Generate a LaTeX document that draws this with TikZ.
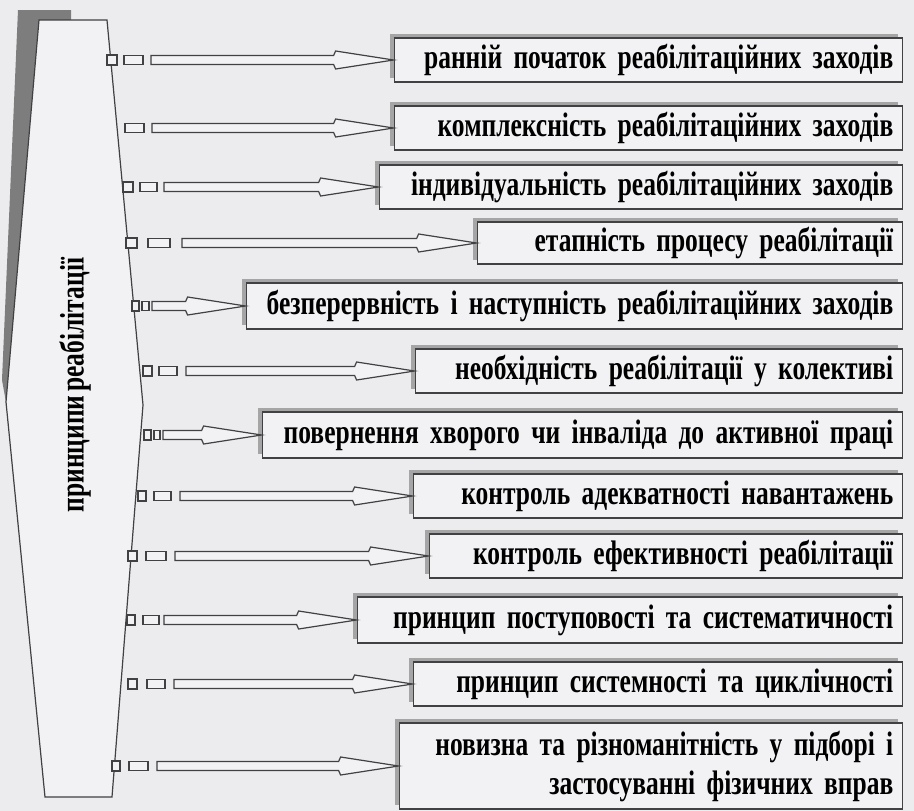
\documentclass[tikz,border=0pt]{standalone}
\usepackage{fontspec}
\newfontfamily\condfont{Liberation Serif}[FakeStretch=0.75,WordSpace=0.6]
\newcommand\labelfont{\condfont\bfseries\fontsize{34}{39}\selectfont}
\usetikzlibrary{calc,shadows}
\definecolor{paper}{RGB}{236,236,238}
\definecolor{boxfill}{RGB}{242,242,244}
\definecolor{inkgray}{RGB}{65,65,68}
\definecolor{shade}{RGB}{165,165,165}
\definecolor{bannershade}{RGB}{125,125,125}
\tikzset{
  principle/.style={draw=inkgray, line width=1.4pt, fill=boxfill, anchor=east,
    align=right, inner xsep=9pt, inner ysep=0pt, font=\labelfont,
    general shadow={fill=shade, shadow xshift=-4pt, shadow yshift=4pt}},
  piece/.style={draw=inkgray, line width=1.2pt, fill=boxfill, inner sep=0pt},
  hollow/.style={draw=inkgray, line width=1.2pt, fill=boxfill},
}
\begin{document}
\begin{tikzpicture}[x=1pt,y=-1pt]
  \fill[paper] (0,0) rectangle (914,811);
  \useasboundingbox (0,0) rectangle (914,811);
  % banner
  \fill[bannershade] (18,10) -- (71,10) -- (71,20) -- (39,20) -- (6,402) -- (2,380) -- cycle;
  \draw[inkgray, line width=1.2pt, fill=boxfill]
    (39,20) -- (107,20) -- (143,405) -- (112,797) -- (45,797) -- (6,402) -- cycle;
  \node[rotate=90, font=\labelfont] (title) at (75,385) {принципи реабілітації};
  % principles
  \foreach[evaluate={\w=903-\xl-18;}] \n/\yy/\xl/\h/\qa/\qb/\ra/\rb/\xs/\txt in {
      1/60/395/44/107/117/124/143/151/{ранній початок реабілітаційних заходів},
      2/128/395/44/0/0/125/144/152/{комплексність реабілітаційних заходів},
      3/187/380/44/123/133/140/157/164/{індивідуальність реабілітаційних заходів},
      4/243/478/42/126/137/148/170/182/{етапність процесу реабілітації},
      5/306/247/46/132/139/142/149/152/{безперервність і наступність реабілітаційних заходів},
      6/371/416/44/143/152/159/177/186/{необхідність реабілітації у колективі},
      7/435/263/46/144/151/154/160/163/{повернення хворого чи інваліда до активної праці},
      8/496/414/44/138/146/154/171/180/{контроль адекватності навантажень},
      9/556/430/44/128/137/146/166/175/{контроль ефективності реабілітації},
      10/620/358/46/127/135/143/159/164/{принцип поступовості та систематичності},
      11/684/414/44/128/137/147/165/174/{принцип системності та циклічності},
      12/766/400/86/112/120/129/148/157/{новизна та різноманітність у підборі і\\застосуванні фізичних вправ}} {
    \node[principle, text width=\w pt, minimum height=\h pt] (b\n) at (903,\yy) {\txt};
    \ifnum\qa>0
      \node[piece, minimum width={(\qb-\qa)*1pt}, minimum height=10pt] (q\n) at ({(\qa+\qb)/2},\yy) {};
    \fi
    \node[piece, minimum width={(\rb-\ra)*1pt}, minimum height=9pt] (r\n) at ({(\ra+\rb)/2},\yy) {};
    \coordinate (s\n) at (\xs,\yy);
    \draw[hollow] ($(s\n)+(0,-4.5)$) -- ($(b\n.west)+(-60,-4.5)$) -- ($(b\n.west)+(-58,-9)$)
      -- (b\n.west) -- ($(b\n.west)+(-58,9)$) -- ($(b\n.west)+(-60,4.5)$) -- ($(s\n)+(0,4.5)$) -- cycle;
  }
\end{tikzpicture}
\end{document}
